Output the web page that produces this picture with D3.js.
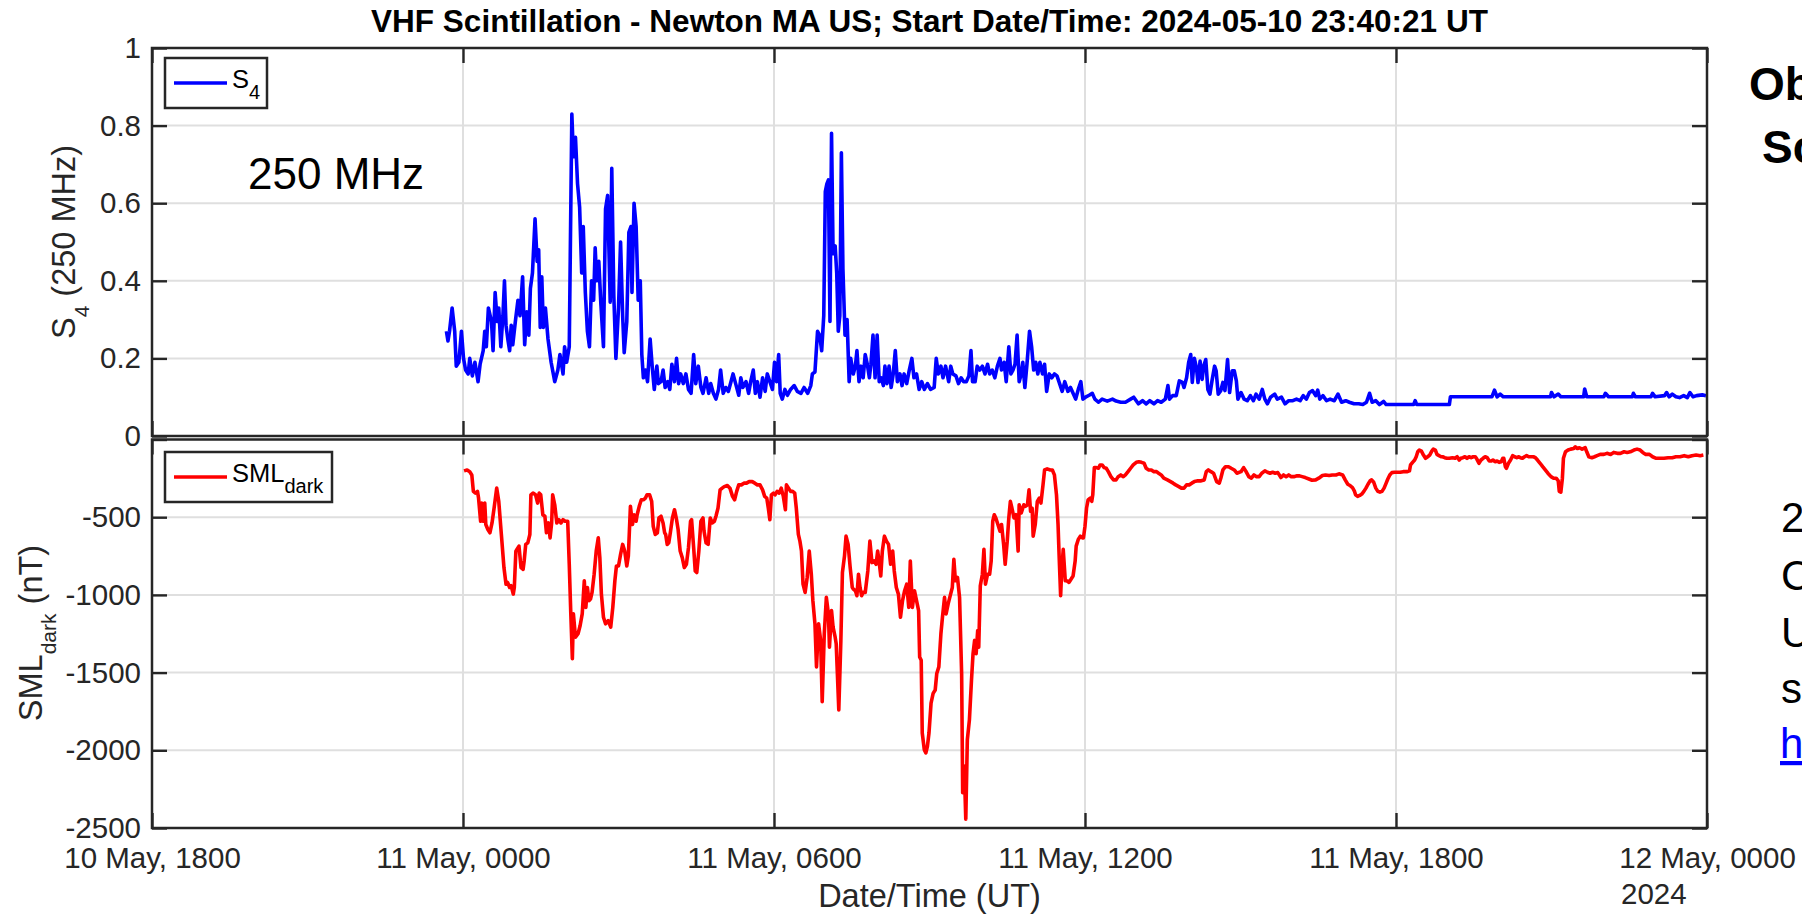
<!DOCTYPE html>
<html>
<head>
<meta charset="utf-8">
<script src="https://cdn.jsdelivr.net/npm/d3@7"></script>
<style>
  body { margin: 0; background: #fff; overflow: hidden; }
  svg { display: block; }
  text { font-family: "Liberation Sans", Arial, Helvetica, sans-serif; }
</style>
</head>
<body>
<svg id="fig" width="1802" height="914"></svg>
<script>
// hours since 2024-05-11 00:00 UT
const s4Hours = [-0.32,-0.29,-0.26,-0.21,-0.16,-0.13,-0.08,-0.03,0.01,0.05,0.10,0.13,0.18,0.23,0.29,0.33,0.39,0.42,0.45,0.49,
  0.55,0.58,0.62,0.66,0.69,0.73,0.77,0.80,0.83,0.87,0.90,0.93,0.96,1.01,1.06,1.10,1.15,1.19,1.23,1.27,
  1.30,1.34,1.39,1.43,1.46,1.49,1.52,1.55,1.59,1.64,1.70,1.77,1.83,1.87,1.93,1.96,2.00,2.05,2.10,2.13,
  2.17,2.21,2.25,2.29,2.32,2.36,2.40,2.44,2.48,2.52,2.55,2.58,2.62,2.66,2.71,2.75,2.79,2.84,2.87,2.91,
  2.95,3.00,3.04,3.08,3.11,3.16,3.20,3.24,3.26,3.30,3.34,3.38,3.42,3.45,3.48,3.52,3.56,3.61,3.65,3.69,
  3.74,3.77,3.82,3.86,3.90,3.95,3.99,4.03,4.08,4.12,4.16,4.20,4.25,4.30,4.35,4.40,4.45,4.49,4.54,4.59,
  4.63,4.69,4.74,4.78,4.83,4.88,4.93,4.97,5.02,5.07,5.12,5.17,5.21,5.26,5.32,5.36,5.40,5.46,5.51,5.55,
  5.60,5.64,5.68,5.73,5.78,5.83,5.87,5.92,5.97,6.01,6.05,6.09,6.12,6.16,6.21,6.26,6.32,6.39,6.45,
  6.52,6.58,6.65,6.71,6.74,6.79,6.84,6.88,6.92,6.96,6.99,7.02,7.05,7.08,7.11,7.14,7.18,7.21,7.24,7.27,
  7.30,7.33,7.37,7.41,7.45,7.48,7.53,7.57,7.60,7.64,7.68,7.72,7.76,7.80,7.84,7.87,7.91,7.95,7.99,8.03,
  8.07,8.11,8.14,8.18,8.22,8.26,8.30,8.34,8.38,8.43,8.47,8.51,8.56,8.61,8.66,8.70,8.75,8.80,8.85,8.90,
  8.96,9.02,9.09,9.13,9.17,9.22,9.26,9.31,9.37,9.41,9.45,9.51,9.56,9.61,9.66,9.71,9.76,9.80,9.83,9.88,
  9.92,9.97,10.02,10.07,10.12,10.16,10.21,10.26,10.31,10.36,10.39,10.44,10.48,10.53,10.57,10.61,10.65,10.69,10.73,10.77,
  10.80,10.84,10.88,10.93,10.97,11.01,11.05,11.09,11.13,11.18,11.22,11.26,11.31,11.36,11.41,11.46,11.51,11.56,11.61,11.67,
  11.72,11.77,11.82,11.87,11.92,11.96,12.01,12.08,12.14,12.19,12.26,12.33,12.43,12.53,12.60,12.69,12.78,12.88,12.94,
  13.03,13.11,13.18,13.25,13.33,13.40,13.47,13.55,13.60,13.63,13.69,13.76,13.82,13.88,13.91,13.96,14.00,14.04,14.07,14.11,
  14.15,14.18,14.22,14.26,14.29,14.33,14.37,14.41,14.45,14.50,14.53,14.57,14.62,14.66,14.70,14.75,14.79,14.84,14.88,14.92,
  14.95,15.01,15.07,15.13,15.19,15.25,15.30,15.36,15.42,15.47,15.52,15.58,15.66,15.71,15.79,15.86,15.93,16.01,16.08,16.15,
  16.21,16.27,16.33,16.39,16.45,16.49,16.53,16.59,16.66,16.73,16.81,16.88,16.95,17.03,17.10,17.19,17.28,17.36,17.43,17.49,
  17.54,17.61,17.68,17.76,17.81,17.94,18.16,18.34,18.37,18.40,18.60,19.03,19.05,19.85,19.90,19.95,20.01,20.07,20.98,21.00,
  21.05,21.13,21.18,21.62,21.64,21.68,22.01,22.04,22.10,22.56,22.58,22.62,22.92,22.95,23.00,23.18,23.22,23.27,23.33,23.40,
  23.47,23.55,23.62,23.67,23.73,23.80,23.91,23.98];
const s4Values = [0.27,0.245,0.27,0.33,0.27,0.18,0.19,0.27,0.20,0.17,0.16,0.20,0.155,0.19,0.14,0.185,0.22,0.27,0.23,0.33,
  0.295,0.22,0.37,0.295,0.33,0.23,0.31,0.40,0.285,0.245,0.22,0.285,0.235,0.295,0.35,0.31,0.41,0.235,0.32,0.26,
  0.38,0.42,0.56,0.45,0.48,0.28,0.41,0.28,0.33,0.25,0.19,0.14,0.17,0.21,0.16,0.23,0.19,0.23,0.83,0.72,
  0.77,0.65,0.59,0.42,0.54,0.37,0.27,0.23,0.40,0.35,0.485,0.40,0.45,0.34,0.23,0.585,0.62,0.345,0.69,0.36,
  0.20,0.33,0.50,0.31,0.215,0.295,0.525,0.54,0.37,0.60,0.54,0.35,0.40,0.21,0.15,0.17,0.14,0.25,0.18,0.12,
  0.18,0.135,0.14,0.17,0.125,0.14,0.12,0.185,0.14,0.20,0.135,0.16,0.135,0.16,0.12,0.11,0.21,0.135,0.18,0.125,
  0.11,0.15,0.11,0.135,0.11,0.095,0.12,0.17,0.11,0.125,0.115,0.14,0.16,0.135,0.105,0.15,0.125,0.14,0.11,0.14,
  0.17,0.11,0.14,0.10,0.15,0.115,0.16,0.14,0.12,0.19,0.14,0.21,0.11,0.095,0.12,0.105,0.12,0.13,0.115,
  0.11,0.125,0.11,0.13,0.16,0.165,0.27,0.26,0.22,0.31,0.63,0.65,0.66,0.295,0.78,0.47,0.49,0.42,0.27,0.31,
  0.73,0.43,0.26,0.30,0.14,0.20,0.16,0.18,0.22,0.14,0.18,0.15,0.21,0.185,0.15,0.185,0.26,0.15,0.26,0.14,
  0.15,0.13,0.18,0.135,0.18,0.125,0.16,0.22,0.14,0.16,0.13,0.16,0.135,0.17,0.20,0.15,0.16,0.12,0.14,0.12,
  0.135,0.12,0.125,0.20,0.16,0.18,0.15,0.18,0.14,0.18,0.16,0.155,0.135,0.15,0.14,0.14,0.155,0.22,0.14,0.14,
  0.18,0.17,0.18,0.16,0.185,0.16,0.17,0.15,0.18,0.20,0.17,0.19,0.14,0.23,0.16,0.17,0.185,0.26,0.14,0.16,
  0.19,0.125,0.185,0.27,0.23,0.17,0.19,0.16,0.19,0.16,0.185,0.115,0.16,0.15,0.16,0.155,0.135,0.115,0.14,0.115,
  0.125,0.11,0.095,0.12,0.14,0.095,0.10,0.105,0.11,0.095,0.087,0.095,0.09,0.095,0.09,0.087,0.087,0.095,0.10,
  0.083,0.091,0.083,0.091,0.083,0.091,0.087,0.095,0.13,0.095,0.104,0.104,0.142,0.138,0.125,0.15,0.19,0.21,0.138,0.20,
  0.176,0.138,0.193,0.146,0.18,0.197,0.12,0.108,0.142,0.18,0.168,0.108,0.117,0.138,0.117,0.197,0.112,0.168,0.168,0.142,
  0.095,0.112,0.095,0.091,0.104,0.091,0.108,0.095,0.12,0.095,0.083,0.10,0.108,0.095,0.10,0.083,0.091,0.091,0.095,0.091,
  0.104,0.095,0.112,0.117,0.104,0.118,0.095,0.104,0.091,0.095,0.091,0.108,0.087,0.091,0.087,0.083,0.083,0.081,0.087,0.11,
  0.087,0.091,0.081,0.089,0.081,0.081,0.081,0.081,0.091,0.081,0.081,0.081,0.101,0.101,0.118,0.101,0.108,0.101,0.101,0.112,
  0.101,0.108,0.101,0.101,0.121,0.101,0.101,0.11,0.101,0.101,0.11,0.101,0.101,0.11,0.101,0.104,0.112,0.101,0.108,0.101,
  0.099,0.104,0.099,0.112,0.101,0.104,0.106,0.104];

const smlHours = [0.02,0.08,0.13,0.17,0.20,0.24,0.28,0.30,0.34,0.36,0.39,0.42,0.44,0.48,0.52,0.56,0.60,0.65,0.69,0.74,
  0.79,0.83,0.86,0.90,0.93,0.97,0.99,1.02,1.04,1.08,1.12,1.16,1.18,1.21,1.25,1.29,1.31,1.35,1.40,1.44,
  1.47,1.50,1.54,1.58,1.61,1.65,1.68,1.71,1.73,1.77,1.81,1.85,1.89,1.93,1.97,2.02,2.05,2.08,2.11,2.13,
  2.17,2.22,2.26,2.30,2.34,2.37,2.40,2.43,2.46,2.49,2.53,2.57,2.61,2.64,2.67,2.71,2.75,2.80,2.85,2.89,
  2.93,2.96,3.00,3.04,3.08,3.12,3.16,3.19,3.23,3.27,3.30,3.34,3.36,3.40,3.44,3.48,3.52,3.55,3.60,3.64,
  3.67,3.71,3.75,3.78,3.82,3.86,3.89,3.91,3.94,3.97,4.00,4.04,4.08,4.12,4.15,4.19,4.23,4.27,4.31,4.35,
  4.39,4.41,4.45,4.48,4.51,4.55,4.59,4.63,4.65,4.69,4.73,4.77,4.81,4.85,4.88,4.92,4.96,5.00,5.04,5.10,
  5.15,5.20,5.24,5.28,5.32,5.37,5.42,5.47,5.52,5.58,5.63,5.68,5.73,5.78,5.82,5.86,5.89,5.92,5.95,5.99,
  6.02,6.06,6.10,6.14,6.18,6.22,6.24,6.28,6.32,6.36,6.40,6.43,6.47,6.50,6.53,6.56,6.60,6.64,6.68,6.72,
  6.75,6.79,6.82,6.86,6.90,6.93,6.97,7.01,7.05,7.07,7.11,7.14,7.18,7.20,7.25,7.29,7.32,7.36,7.39,7.43,
  7.47,7.51,7.53,7.57,7.60,7.63,7.66,7.69,7.72,7.76,7.81,7.85,7.89,7.93,7.97,8.00,8.03,8.06,8.09,8.13,
  8.17,8.21,8.25,8.29,8.32,8.36,8.40,8.44,8.48,8.52,8.56,8.60,8.63,8.67,8.71,8.75,8.79,8.81,8.84,8.86,
  8.90,8.93,8.96,8.99,9.03,9.07,9.11,9.14,9.18,9.22,9.25,9.29,9.32,9.36,9.40,9.44,9.47,9.50,9.54,9.58,
  9.62,9.64,9.67,9.70,9.73,9.77,9.81,9.84,9.87,9.90,9.93,9.95,9.98,10.02,10.05,10.08,10.12,10.16,10.19,10.22,
  10.25,10.28,10.32,10.36,10.39,10.43,10.46,10.50,10.53,10.56,10.59,10.63,10.67,10.71,10.73,10.77,10.82,10.85,10.89,10.92,
  10.95,10.98,11.00,11.04,11.08,11.12,11.15,11.19,11.22,11.27,11.33,11.37,11.41,11.45,11.48,11.50,11.53,11.55,11.58,11.62,
  11.65,11.69,11.73,11.77,11.81,11.83,11.87,11.91,11.95,11.97,12.00,12.03,12.06,12.10,12.13,12.15,12.18,12.22,12.26,12.29,
  12.33,12.37,12.41,12.45,12.50,12.55,12.60,12.64,12.69,12.74,12.78,12.83,12.88,12.93,12.99,13.04,13.09,13.14,13.18,13.23,
  13.28,13.33,13.38,13.42,13.47,13.52,13.59,13.65,13.70,13.75,13.81,13.86,13.91,13.96,14.01,14.06,14.11,14.18,14.24,14.30,
  14.34,14.38,14.43,14.48,14.54,14.59,14.62,14.66,14.71,14.77,14.82,14.88,14.93,15.01,15.06,15.10,15.16,15.21,15.26,15.31,
  15.36,15.41,15.47,15.52,15.57,15.62,15.67,15.72,15.78,15.83,15.88,15.93,15.98,16.03,16.09,16.14,16.19,16.25,16.32,16.38,
  16.45,16.51,16.58,16.64,16.71,16.77,16.84,16.90,16.97,17.02,17.07,17.12,17.16,17.20,17.22,17.26,17.30,17.34,17.38,17.42,
  17.46,17.50,17.53,17.57,17.61,17.65,17.69,17.73,17.77,17.81,17.84,17.88,17.92,17.97,18.03,18.08,18.14,18.21,18.26,18.28,
  18.32,18.36,18.39,18.42,18.45,18.49,18.53,18.57,18.61,18.65,18.69,18.72,18.76,18.79,18.83,18.87,18.90,18.94,18.98,19.03,
  19.09,19.14,19.18,19.22,19.25,19.29,19.33,19.37,19.41,19.45,19.49,19.53,19.56,19.60,19.64,19.68,19.72,19.76,19.80,19.84,
  19.87,19.91,19.95,19.99,20.03,20.06,20.08,20.11,20.13,20.17,20.21,20.25,20.29,20.33,20.37,20.40,20.44,20.48,20.52,20.56,
  20.60,20.65,20.69,20.73,20.78,20.83,20.88,20.93,20.99,21.04,21.09,21.13,21.15,21.18,21.21,21.23,21.27,21.32,21.37,21.43,
  21.46,21.50,21.54,21.59,21.65,21.68,21.72,21.78,21.83,21.88,21.94,22.01,22.07,22.14,22.20,22.27,22.33,22.40,22.46,22.52,
  22.59,22.65,22.71,22.76,22.82,22.89,22.95,23.02,23.09,23.17,23.25,23.33,23.40,23.48,23.56,23.64,23.71,23.79,23.87,23.93];
const smlValues = [-202,-196,-207,-228,-334,-345,-334,-377,-526,-409,-526,-409,-547,-579,-600,-537,-441,-313,-398,-611,
  -824,-931,-920,-952,-941,-995,-952,-718,-707,-686,-824,-835,-782,-675,-665,-611,-356,-345,-356,-409,
  -345,-356,-484,-494,-600,-537,-633,-537,-356,-420,-537,-516,-537,-516,-526,-526,-803,-1122,-1410,-1122,
  -1272,-1250,-1197,-1122,-909,-1080,-952,-1037,-1027,-984,-867,-718,-633,-760,-995,-1144,-1186,-1165,-1207,-1080,
  -909,-814,-814,-739,-675,-718,-814,-750,-430,-547,-484,-526,-484,-430,-388,-388,-377,-356,-356,-398,
  -558,-611,-600,-505,-494,-537,-600,-611,-675,-665,-600,-505,-452,-516,-579,-718,-760,-824,-803,-696,
  -526,-516,-696,-846,-856,-718,-526,-505,-590,-665,-675,-505,-537,-526,-494,-441,-324,-313,-303,-296,
  -313,-366,-388,-334,-292,-292,-281,-281,-271,-271,-281,-292,-292,-324,-366,-377,-441,-516,-356,-345,
  -356,-334,-345,-313,-366,-452,-292,-313,-334,-334,-345,-441,-611,-654,-718,-931,-984,-888,-718,-867,
  -1037,-1186,-1463,-1186,-1293,-1687,-1250,-1016,-1122,-1336,-1101,-1207,-1272,-1314,-1740,-1293,-856,-750,-622,-675,
  -824,-952,-963,-973,-1005,-867,-952,-1005,-984,-984,-846,-654,-792,-782,-803,-718,-792,-878,-718,-622,
  -654,-675,-803,-718,-846,-952,-995,-1144,-1037,-973,-931,-1080,-782,-1080,-973,-1037,-1101,-1400,-1421,-1889,
  -1996,-2017,-1974,-1889,-1697,-1634,-1612,-1506,-1463,-1250,-1144,-1016,-1122,-1058,-1005,-952,-771,-909,-888,-1016,
  -1506,-2273,-2102,-2443,-1932,-1804,-1549,-1378,-1293,-1378,-1229,-1336,-941,-867,-707,-931,-867,-867,-782,-526,
  -484,-505,-547,-590,-547,-675,-803,-654,-505,-398,-441,-505,-484,-718,-420,-473,-420,-430,-420,-324,
  -462,-441,-622,-547,-398,-377,-409,-292,-196,-189,-196,-196,-228,-356,-547,-739,-1005,-846,-707,-909,
  -909,-920,-899,-878,-782,-686,-643,-622,-633,-633,-558,-441,-388,-377,-398,-356,-181,-181,-185,-164,
  -164,-181,-185,-207,-239,-260,-260,-239,-228,-239,-228,-207,-185,-164,-147,-143,-147,-153,-185,-196,
  -196,-207,-207,-217,-228,-249,-260,-271,-281,-292,-303,-313,-313,-292,-292,-281,-271,-266,-266,-260,
  -207,-196,-207,-217,-271,-281,-249,-196,-175,-175,-185,-196,-217,-207,-181,-202,-239,-249,-228,-239,
  -239,-217,-202,-211,-217,-211,-217,-213,-245,-228,-239,-228,-239,-239,-234,-234,-239,-245,-254,-262,
  -260,-249,-232,-228,-232,-228,-228,-221,-228,-260,-288,-298,-309,-334,-356,-366,-360,-351,-334,-313,
  -288,-266,-260,-275,-313,-334,-339,-334,-313,-281,-256,-228,-213,-211,-211,-211,-207,-207,-202,-164,
  -147,-132,-111,-79,-68,-75,-100,-121,-111,-100,-75,-62,-68,-96,-104,-111,-111,-117,-121,-121,
  -117,-121,-111,-132,-121,-117,-111,-121,-111,-117,-111,-111,-126,-153,-132,-121,-111,-117,-138,-138,
  -132,-143,-138,-147,-143,-121,-121,-175,-185,-153,-132,-104,-111,-117,-111,-117,-121,-111,-104,-111,
  -111,-111,-117,-132,-153,-175,-196,-217,-239,-249,-249,-266,-334,-339,-249,-121,-79,-68,-62,-58,
  -47,-58,-53,-62,-53,-79,-111,-117,-111,-104,-96,-96,-89,-96,-83,-89,-89,-79,-83,-79,
  -68,-62,-68,-83,-96,-96,-111,-121,-121,-121,-117,-117,-111,-111,-104,-111,-104,-100,-104,-100];

const s4Ticks = [0, 0.2, 0.4, 0.6, 0.8, 1];
const smlTicks = [-2500, -2000, -1500, -1000, -500, 0];
const titleText = "VHF Scintillation - Newton MA US; Start Date/Time: 2024-05-10 23:40:21 UT";

const svg = d3.select("#fig");
const ink = "#262626";
const font = "'Liberation Sans', Arial, Helvetica, sans-serif";
const t0 = Date.UTC(2024, 4, 11);
const toDate = h => new Date(t0 + h * 3600e3);

const x = d3.scaleUtc()
  .domain([new Date(Date.UTC(2024, 4, 10, 18)), new Date(Date.UTC(2024, 4, 12, 0))])
  .range([152, 1707]);
const xTicks = x.ticks(d3.utcHour.every(6));

const panels = [
  { y: d3.scaleLinear().domain([0, 1]).range([436, 48]), ticks: s4Ticks,
    fmt: d => String(+d.toFixed(1)), hours: s4Hours, vals: s4Values, color: "#0000ff", id: "top" },
  { y: d3.scaleLinear().domain([-2500, 0]).range([828, 439.5]), ticks: smlTicks,
    fmt: d => (d === 0 ? "" : String(d)), hours: smlHours, vals: smlValues, color: "#ff0000", id: "bot" }
];

panels.forEach((p, i) => {
  const [y0, y1] = p.y.range(); // bottom, top
  const g = svg.append("g");

  // grid
  g.selectAll(".gy").data(p.ticks.filter(t => p.y(t) > y1 + 1 && p.y(t) < y0 - 1)).join("line")
    .attr("x1", x.range()[0]).attr("x2", x.range()[1])
    .attr("y1", d => p.y(d)).attr("y2", d => p.y(d))
    .attr("stroke", "#dfdfdf").attr("stroke-width", 2);
  g.selectAll(".gx").data(xTicks.slice(1, -1)).join("line")
    .attr("x1", d => x(d)).attr("x2", d => x(d))
    .attr("y1", y1).attr("y2", y0)
    .attr("stroke", "#dfdfdf").attr("stroke-width", 2);

  // data
  svg.append("clipPath").attr("id", "clip-" + p.id).append("rect")
    .attr("x", x.range()[0]).attr("y", y1).attr("width", x.range()[1] - x.range()[0]).attr("height", y0 - y1);
  const pts = p.hours.map((h, k) => ({ t: toDate(h), v: p.vals[k] }));
  g.append("path").datum(pts)
    .attr("clip-path", `url(#clip-${p.id})`)
    .attr("fill", "none").attr("stroke", p.color).attr("stroke-width", 3.6)
    .attr("stroke-linejoin", "round")
    .attr("d", d3.line().x(d => x(d.t)).y(d => p.y(d.v)));

  // axes (ticks point inward)
  const styleAxis = a => {
    a.select(".domain").remove();
    a.style("color", ink).attr("font-family", font).attr("font-size", 29.5);
    a.selectAll(".tick line").attr("stroke-width", 2.4);
  };
  g.append("g").attr("transform", `translate(${x.range()[0]},0)`)
    .call(d3.axisLeft(p.y).tickValues(p.ticks).tickSize(-15).tickPadding(11).tickFormat(p.fmt)).call(styleAxis);
  g.append("g").attr("transform", `translate(${x.range()[1]},0)`)
    .call(d3.axisRight(p.y).tickValues(p.ticks).tickSize(-15).tickFormat("")).call(styleAxis);
  g.append("g").attr("transform", `translate(0,${y1})`)
    .call(d3.axisTop(x).tickValues(xTicks).tickSize(-15).tickFormat("")).call(styleAxis);
  g.append("g").attr("transform", `translate(0,${y0})`)
    .call(d3.axisBottom(x).tickValues(xTicks).tickSize(-15).tickPadding(19)
      .tickFormat(i === 1 ? d3.utcFormat("%d %b, %H%M") : "")).call(styleAxis);

  // frame
  g.append("rect").attr("x", x.range()[0]).attr("y", y1)
    .attr("width", x.range()[1] - x.range()[0]).attr("height", y0 - y1)
    .attr("fill", "none").attr("stroke", ink).attr("stroke-width", 2.5);
});

// secondary date label
svg.append("text").attr("x", 1621).attr("y", 904)
  .attr("font-size", 29.5).attr("fill", ink).text("2024");

// title & axis labels
svg.append("text").attr("x", 929.5).attr("y", 32).attr("text-anchor", "middle")
  .attr("font-size", 31.5).attr("font-weight", "bold").attr("fill", "#000").text(titleText);
svg.append("text").attr("x", 929.5).attr("y", 907).attr("text-anchor", "middle")
  .attr("font-size", 32.5).attr("fill", ink).text("Date/Time (UT)");

const yl1 = svg.append("text").attr("transform", "translate(75,242) rotate(-90)")
  .attr("text-anchor", "middle").attr("font-size", 32.5).attr("fill", ink);
yl1.append("tspan").text("S");
yl1.append("tspan").attr("font-size", 21).attr("dy", 14).text("4");
yl1.append("tspan").attr("dy", -14).text("\u00a0(250 MHz)");

const yl2 = svg.append("text").attr("transform", "translate(42,633) rotate(-90)")
  .attr("text-anchor", "middle").attr("font-size", 32.5).attr("fill", ink);
yl2.append("tspan").text("SML");
yl2.append("tspan").attr("font-size", 21).attr("dy", 14).text("dark");
yl2.append("tspan").attr("dy", -14).text("\u00a0(nT)");

// legends
const legends = [
  { x: 165, y: 58, w: 102, color: "#0000ff", main: "S", sub: "4" },
  { x: 165, y: 452, w: 167, color: "#ff0000", main: "SML", sub: "dark" }
];
legends.forEach(l => {
  const g = svg.append("g");
  g.append("rect").attr("x", l.x).attr("y", l.y).attr("width", l.w).attr("height", 50)
    .attr("fill", "#fff").attr("stroke", ink).attr("stroke-width", 2.5);
  g.append("line").attr("x1", l.x + 9).attr("x2", l.x + 62).attr("y1", l.y + 25).attr("y2", l.y + 25)
    .attr("stroke", l.color).attr("stroke-width", 3.6);
  const t = g.append("text").attr("x", l.x + 67).attr("y", l.y + 30).attr("font-size", 25.5).attr("fill", "#000");
  t.append("tspan").text(l.main);
  t.append("tspan").attr("font-size", 20).attr("dy", 11).text(l.sub);
});

// annotation
svg.append("text").attr("x", 248).attr("y", 189)
  .attr("font-family", "'Noto Sans', sans-serif").attr("font-size", 44).attr("fill", "#000").text("250 MHz");

// slide text cut off at the right edge, as in the source picture
const side = svg.append("g").attr("font-family", "'Noto Sans', sans-serif");
side.append("text").attr("x", 1749).attr("y", 100).attr("font-size", 46).attr("font-weight", "bold").text("Ob");
side.append("text").attr("x", 1762).attr("y", 163).attr("font-size", 46).attr("font-weight", "bold").text("Sc");
[["2", 532], ["C", 590], ["U", 647], ["s", 703]].forEach(([s, yy]) =>
  side.append("text").attr("x", 1781).attr("y", yy).attr("font-size", 42).text(s));
side.append("text").attr("x", 1780).attr("y", 758).attr("font-size", 42)
  .attr("fill", "#0000ff").attr("text-decoration", "underline").text("h");
</script>
</body>
</html>
